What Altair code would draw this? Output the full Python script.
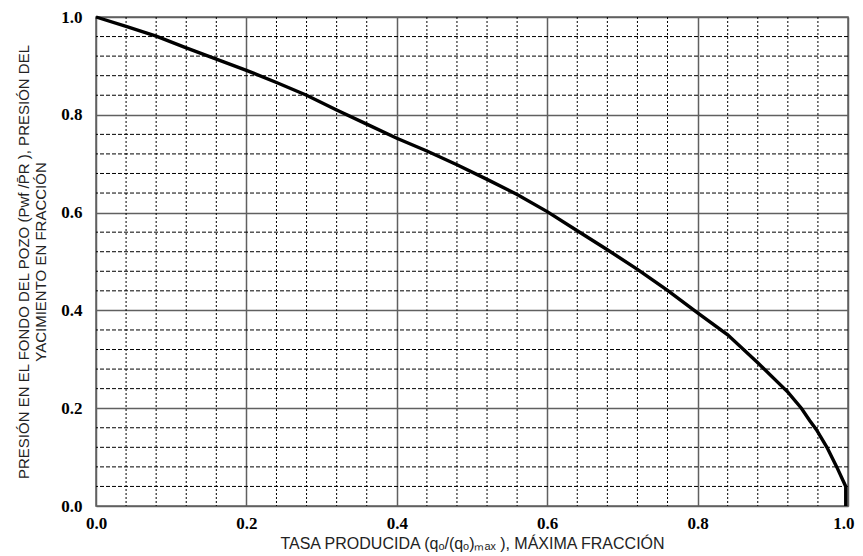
import altair as alt
import pandas as pd

# Curve
rate = [0.0, 0.04, 0.08, 0.12, 0.16, 0.20, 0.24, 0.28, 0.32, 0.36, 0.40, 0.44, 0.48,
        0.52, 0.56, 0.60, 0.64, 0.68, 0.72, 0.76, 0.80, 0.84, 0.88, 0.92, 0.938,
        0.949, 0.958, 0.972, 0.985, 0.997, 0.997]
pressure = [1.0, 0.981, 0.961, 0.937, 0.914, 0.891, 0.866, 0.840, 0.810, 0.781, 0.752,
            0.726, 0.698, 0.668, 0.637, 0.602, 0.563, 0.524, 0.484, 0.441, 0.395, 0.350,
            0.293, 0.233, 0.200, 0.175, 0.156, 0.120, 0.080, 0.040, 0.0]

major_ticks = [0.0, 0.2, 0.4, 0.6, 0.8, 1.0]
minor_ticks = [0.04, 0.08, 0.12, 0.16, 0.24, 0.28, 0.32, 0.36, 0.44, 0.48, 0.52, 0.56,
               0.64, 0.68, 0.72, 0.76, 0.84, 0.88, 0.92, 0.96]

x_title = "TASA PRODUCIDA (qₒ/(qₒ)ₘₐₓ ), MÁXIMA FRACCIÓN"
y_title = ["PRESIÓN EN EL FONDO DEL POZO (Pwf /P\u0304R ), PRESIÓN DEL",
           "YACIMIENTO EN FRACCIÓN"]

curve = pd.DataFrame({"i": list(range(len(rate))), "q": rate, "p": pressure})
minor = pd.DataFrame({"v": minor_ticks})

x_scale = alt.Scale(domain=[0, 1], nice=False, zero=False)
y_scale = alt.Scale(domain=[0, 1], nice=False, zero=False)

common_axis = dict(
    values=major_ticks, format=".1f", grid=True, gridColor="#606060", gridWidth=1.5,
    domain=False, ticks=False, labelFlush=False,
    labelFont="Liberation Serif", labelFontWeight="bold", labelFontSize=17,
    labelColor="black",
    titleFont="Liberation Sans Narrow, Liberation Sans", titleFontWeight="normal",
    titleColor="#222222",
)
x_axis = alt.Axis(
    title=x_title, titlePadding=4, titleFontSize=16, labelPadding=9,
    labelAlign={"condition": {"test": "datum.value >= 1", "value": "right"}, "value": "center"},
    labelOffset={"condition": {"test": "datum.value >= 1", "value": 6}, "value": 0},
    **common_axis,
)
y_axis = alt.Axis(title=y_title, titlePadding=12, titleFontSize=15, titleLineHeight=17,
                  labelPadding=14, **common_axis)

vrules = alt.Chart(minor).mark_rule(color="black", strokeWidth=1, strokeDash=[2, 2]).encode(
    x=alt.X("v:Q", scale=x_scale, axis=x_axis)
)
hrules = alt.Chart(minor).mark_rule(color="black", strokeWidth=1, strokeDash=[4, 2]).encode(
    y=alt.Y("v:Q", scale=y_scale, axis=y_axis)
)

line = alt.Chart(curve).mark_line(color="black", strokeWidth=3.4).encode(
    x=alt.X("q:Q", scale=x_scale, axis=x_axis),
    y=alt.Y("p:Q", scale=y_scale, axis=y_axis),
    order=alt.Order("i:Q"),
)

chart = alt.layer(vrules, hrules, line).properties(
    width=752,
    height=489,
    autosize=alt.AutoSizeParams(type="none"),
    padding={"left": 88, "top": 9, "right": 7, "bottom": 49},
).configure_view(stroke="#606060", strokeWidth=1.5)

chart.save("out.html", embed_options={"renderer": "svg", "actions": False})
